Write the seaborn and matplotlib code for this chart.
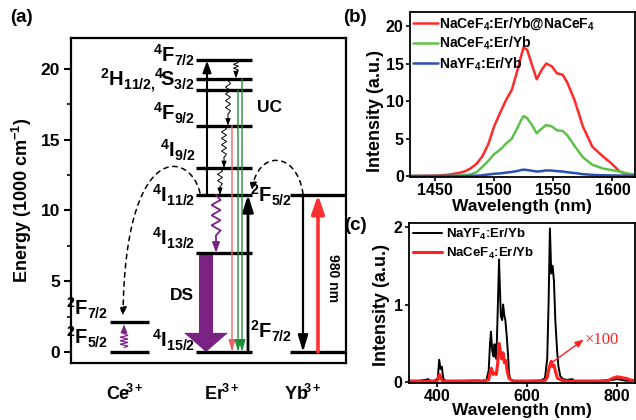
import numpy as np
import pandas as pd
import matplotlib
matplotlib.use("Agg")
import matplotlib.pyplot as plt
import seaborn as sns
from matplotlib.path import Path
from matplotlib.patches import FancyArrowPatch, Polygon

# ---------------- data ----------------
# (a) energy levels (1000 cm^-1)
ce_levels = [0.0, 2.1]
ce_labels = [r"$^{2}\mathrm{F}_{5/2}$", r"$^{2}\mathrm{F}_{7/2}$"]
er_levels = [0.0, 7.0, 11.1, 13.0, 16.0, 18.5, 19.3, 20.6]
er_labels = [r"$^{4}\mathrm{I}_{15/2}$", r"$^{4}\mathrm{I}_{13/2}$", r"$^{4}\mathrm{I}_{11/2}$",
             r"$^{4}\mathrm{I}_{9/2}$", r"$^{4}\mathrm{F}_{9/2}$", "", "", r"$^{4}\mathrm{F}_{7/2}$"]
er_pair_label = r"$^{2}\mathrm{H}_{11/2,}\!{}^{4}\!\mathrm{S}_{3/2}$"
yb_levels = [0.0, 11.1]
yb_labels = [r"$^{2}\mathrm{F}_{7/2}$", r"$^{2}\mathrm{F}_{5/2}$"]
ions = [r"$\mathrm{Ce}^{\!\!3+}$", r"$\mathrm{Er}^{\!3+}$", r"$\mathrm{Yb}^{\!\!3+}$"]

# (b) down-shifting spectra
b_wavelength = [1430, 1450, 1460, 1470, 1475, 1480, 1485, 1490, 1495, 1500,
                1505, 1510, 1515, 1519, 1523, 1525, 1528, 1532, 1536, 1540,
                1544, 1549, 1553, 1558, 1562, 1568, 1575, 1583, 1592, 1599,
                1606, 1614, 1619]
b_core_shell = [0.0, 0.05, 0.15, 0.4, 0.6, 1.0, 1.6, 2.6, 4.2, 6.6,
                8.4, 10.1, 11.5, 13.7, 16.1, 17.2, 16.8, 14.8, 12.9, 14.1,
                15.0, 14.6, 13.7, 13.5, 12.4, 10.1, 6.6, 3.9, 2.6, 1.7,
                0.6, 0.1, 0.0]
b_nacef = [0, 0, 0.02, 0.05, 0.1, 0.2, 0.5, 1.2, 2.0, 2.9,
           3.5, 4.3, 5.0, 6.2, 7.5, 8.0, 7.7, 6.8, 5.7, 6.3,
           6.8, 6.6, 6.1, 6.0, 5.4, 4.0, 2.5, 1.5, 1.0, 0.8,
           0.6, 0.3, 0.2]
b_nayf = [0, 0, 0, 0, 0, 0.02, 0.05, 0.1, 0.2, 0.3,
          0.35, 0.45, 0.55, 0.65, 0.8, 0.85, 0.8, 0.7, 0.6, 0.65,
          0.75, 0.72, 0.65, 0.6, 0.5, 0.4, 0.25, 0.15, 0.1, 0.08,
          0.06, 0.05, 0.05]
b_names = [r"NaCeF$_4$:Er/Yb@NaCeF$_4$", r"NaCeF$_4$:Er/Yb", r"NaYF$_4$:Er/Yb"]

# (c) upconversion spectra
c_black_wl = [340, 360, 375, 380, 385, 395, 402, 405, 408, 411,
              414, 418, 425, 450, 480, 500, 510, 515, 518, 520,
              523, 526, 528, 530, 532, 535, 538, 540, 542, 545,
              547, 550, 552, 555, 558, 560, 563, 570, 600, 630,
              640, 645, 648, 651, 654, 657, 660, 663, 667, 670,
              674, 680, 690, 700, 705, 720, 760, 790, 800, 810,
              820, 840]
c_black_int = [0.02, 0.02, 0.03, 0.04, 0.02, 0.02, 0.05, 0.29, 0.17, 0.2,
               0.05, 0.02, 0.02, 0.02, 0.02, 0.02, 0.03, 0.15, 0.5, 0.65,
               0.4, 0.33, 0.49, 0.35, 0.3, 0.9, 1.58, 1.2, 0.85, 0.8,
               1.0, 0.85, 0.8, 0.6, 0.35, 0.12, 0.04, 0.02, 0.02, 0.02,
               0.05, 0.3, 1.0, 1.98, 1.4, 1.5, 1.3, 0.8, 0.4, 0.2,
               0.08, 0.04, 0.03, 0.04, 0.02, 0.02, 0.02, 0.03, 0.04, 0.03,
               0.02, 0.02]
c_red_wl = [340, 380, 400, 403, 406, 409, 413, 450, 490, 500,
            515, 518, 521, 525, 528, 532, 535, 538, 541, 544,
            547, 550, 553, 556, 560, 570, 600, 640, 645, 648,
            651, 654, 657, 660, 664, 668, 680, 700, 760, 780,
            790, 800, 810, 820, 830, 840]
c_red_int = [0.01, 0.01, 0.01, 0.04, 0.1, 0.05, 0.01, 0.01, 0.02, 0.01,
             0.03, 0.12, 0.18, 0.1, 0.12, 0.1, 0.25, 0.5, 0.4, 0.3,
             0.38, 0.25, 0.28, 0.15, 0.05, 0.01, 0.01, 0.02, 0.06, 0.15,
             0.22, 0.27, 0.2, 0.22, 0.12, 0.05, 0.02, 0.01, 0.01, 0.02,
             0.05, 0.07, 0.06, 0.05, 0.03, 0.02]
c_names = [r"NaYF$_4$:Er/Yb", r"NaCeF$_4$:Er/Yb"]

# ---------------- style ----------------
sns.set_theme(style="ticks")
plt.rcParams.update({
    "font.family": ["Liberation Sans", "DejaVu Sans"],
    "font.weight": "bold",
    "axes.labelweight": "bold",
    "mathtext.fontset": "custom",
    "mathtext.rm": "Liberation Sans:bold",
    "mathtext.it": "Liberation Sans:bold",
    "mathtext.bf": "Liberation Sans:bold",
    "axes.edgecolor": "black",
    "xtick.color": "black",
    "ytick.color": "black",
    "text.color": "black",
})

PURPLE = "#7b2385"
RED = "#ff2a2a"
GREEN = "#1f8f3a"

fig = plt.figure(figsize=(6.36, 4.2), dpi=100)

# ================= (a) energy diagram =================
axa = fig.add_axes([71/636, 57/420, 275/636, 325/420])
axa.set_xlim(0, 275)
axa.set_ylim(-0.78, 22.19)
for s in axa.spines.values():
    s.set_linewidth(1.6)
axa.set_xticks([])
axa.set_yticks([0, 5, 10, 15, 20])
axa.set_yticks([2.5, 7.5, 12.5, 17.5], minor=True)
axa.tick_params(axis="y", which="major", direction="out", length=5, width=1.5,
                labelsize=12.5, pad=3)
axa.tick_params(axis="y", which="minor", direction="out", length=3, width=1.2)
for t in axa.get_yticklabels():
    t.set_fontweight("bold")

CE_X = (39, 78)
ER_X = (125, 181)
YB_X = (219, 274)
LW_LEVEL = 2.4

axa.hlines(ce_levels, *CE_X, color="black", lw=LW_LEVEL)
axa.hlines(er_levels, *ER_X, color="black", lw=LW_LEVEL)
axa.hlines(yb_levels, *YB_X, color="black", lw=LW_LEVEL)

LFS = 14.5
ce_off = [0.55, 2.55]
for lab, yb_ in zip(ce_labels, ce_off):
    axa.text(37, yb_, lab, ha="right", va="baseline", fontsize=LFS)
er_off = {0: 0.3, 1: 7.5, 2: 10.55, 3: 13.75, 4: 16.35, 7: 20.45}
for i, lab in enumerate(er_labels):
    if lab:
        axa.text(124, er_off[i], lab, ha="right", va="baseline", fontsize=LFS)
axa.text(124, 18.75, er_pair_label, ha="right", va="baseline", fontsize=LFS)
yb_off = [0.95, 10.55]
for lab, yb_ in zip(yb_labels, yb_off):
    axa.text(221, yb_, lab, ha="right", va="baseline", fontsize=LFS)

# ion labels
for xpos, lab in zip([54, 151, 232], ions):
    axa.text(xpos, -0.114, lab, ha="center", va="baseline", fontsize=13,
             transform=axa.get_xaxis_transform())

def arrow(ax, x, y0, y1, color, lw, hl, hw):
    ax.annotate("", xy=(x, y1), xytext=(x, y0),
                arrowprops=dict(arrowstyle=f"-|>,head_length={hl},head_width={hw}",
                                color=color, lw=lw, shrinkA=0, shrinkB=0,
                                mutation_scale=1))

def zigzag(ax, x, y0, y1, amp, n, tail, color, lw, hl, hw):
    yz_end = y0 + (y1 - y0) * (1 - tail)
    ys = np.linspace(y0, yz_end, 2 * n + 1)
    signs = np.array([0] + [(-1) ** k for k in range(2 * n - 1)] + [0])
    ax.plot(x + amp * signs, ys, color=color, lw=lw, solid_joinstyle="miter")
    arrow(ax, x, yz_end, y1, color, lw, hl, hw)

E = dict(zip(["I15", "I13", "I11", "I9", "F9", "S3", "H11", "F7"], er_levels))

# straight Er arrows
arrow(axa, 136, E["I11"], E["F7"], "black", 1.5, 7, 2.5)
arrow(axa, 177, E["I15"], E["I11"], "black", 2.0, 10, 3.2)
arrow(axa, 161, E["F9"], E["I15"], "#f06262", 1.0, 7, 2.0)
arrow(axa, 167, E["S3"], E["I15"], GREEN, 1.0, 7, 2.0)
arrow(axa, 171, E["H11"], E["I15"], GREEN, 1.0, 7, 2.0)

# non-radiative relaxations
zigzag(axa, 165, E["F7"], E["H11"] + 0.05, 2.5, 3, 0.35, "black", 0.7, 4, 1.5)
zigzag(axa, 157, E["H11"] - 0.1, E["F9"], 2.5, 5, 0.25, "black", 0.7, 4, 1.5)
zigzag(axa, 153, E["F9"], E["I9"], 2.5, 5, 0.25, "black", 0.7, 4, 1.5)
zigzag(axa, 149, E["I9"], E["I11"], 2.5, 3, 0.3, "black", 0.7, 4, 1.5)
zigzag(axa, 145, E["I11"], E["I13"], 4.5, 4, 0.3, PURPLE, 1.3, 6, 2.2)

# DS big arrow
xc, top, bot = 135, E["I13"], E["I15"]
hy = 1.35
axa.add_patch(Polygon([(xc - 7, top), (xc + 7, top), (xc + 7, hy), (xc + 22, hy),
                       (xc, bot), (xc - 22, hy), (xc - 7, hy)],
                      closed=True, facecolor=PURPLE, edgecolor="none"))

# Ce relaxation
zigzag(axa, 53, ce_levels[0] + 0.3, ce_levels[1] - 0.15, 4, 4, 0.4, PURPLE, 0.9, 5, 2.0)

# Yb arrows
arrow(axa, 232, yb_levels[1], yb_levels[0], "black", 1.6, 10, 3.0)
arrow(axa, 247, yb_levels[0], yb_levels[1], "#ff3030", 2.6, 11, 3.8)
axa.text(262, 5.2, "980 nm", rotation=-90, ha="center", va="center", fontsize=10)

# energy transfer dashed curves
def ycoord(py):
    return (352 - py) / 14.15

path1 = Path([(129, ycoord(193)), (119, ycoord(150)), (54, ycoord(140)), (52, ycoord(316))],
             [Path.MOVETO, Path.CURVE4, Path.CURVE4, Path.CURVE4])
axa.add_patch(FancyArrowPatch(path=path1, arrowstyle="-|>,head_length=5,head_width=2",
                              mutation_scale=1, color="black", lw=1.1, linestyle=(0, (3, 3))))
path2 = Path([(232, ycoord(194)), (226, ycoord(150)), (186, ycoord(150)), (181, ycoord(191))],
             [Path.MOVETO, Path.CURVE4, Path.CURVE4, Path.CURVE4])
axa.add_patch(FancyArrowPatch(path=path2, arrowstyle="-|>,head_length=5,head_width=2",
                              mutation_scale=1, color="black", lw=1.1, linestyle=(0, (3, 3))))

axa.text(198, ycoord(108), "UC", ha="center", va="center", fontsize=12.5)
axa.text(111, ycoord(296), "DS", ha="center", va="center", fontsize=12.5)

fig.text(22/636, 1 - 200/420, r"Energy (1000 $\mathrm{cm}^{-1}$)", rotation=90,
         ha="center", va="center", fontsize=13)
fig.text(21/636, 1 - 18/420, "(a)", ha="center", va="center", fontsize=13.5)

# ================= (b) =================
axb = fig.add_axes([410/636, 243/420, 225/636, 165/420])
dfb = pd.DataFrame({"wl": b_wavelength * 3,
                    "I": b_core_shell + b_nacef + b_nayf,
                    "sample": [b_names[0]] * len(b_wavelength) + [b_names[1]] * len(b_wavelength)
                              + [b_names[2]] * len(b_wavelength)})
sns.lineplot(data=dfb, x="wl", y="I", hue="sample", hue_order=b_names,
             palette=[RED, "#5cc24a", "#2a4fb5"], estimator=None, lw=1.8, ax=axb)
axb.set_xlim(1429, 1619)
axb.set_ylim(-0.13, 21.87)
axb.set_xticks([1450, 1500, 1550, 1600])
axb.set_yticks([0, 5, 10, 15, 20])
axb.set_xlabel("")
axb.set_ylabel("")
axb.legend(loc="upper left", bbox_to_anchor=(0.0, 1.0), frameon=False, fontsize=10,
           handlelength=1.75, handletextpad=0.1, borderaxespad=0.0, borderpad=0.25,
           labelspacing=0.2)

# ================= (c) =================
axc = fig.add_axes([409/636, 37/420, 226/636, 160/420])
dfc = pd.DataFrame({"wl": c_black_wl + c_red_wl,
                    "I": c_black_int + c_red_int,
                    "sample": [c_names[0]] * len(c_black_wl) + [c_names[1]] * len(c_red_wl)})
sns.lineplot(data=dfc, x="wl", y="I", hue="sample", hue_order=c_names,
             palette=["black", "#ff2020"], estimator=None, ax=axc, lw=1.6)
for ln, w in zip(axc.get_lines()[:2], [1.4, 2.2]):
    ln.set_linewidth(w)
axc.set_xlim(338, 840)
axc.set_ylim(-0.01, 2.05)
axc.set_xticks([400, 600, 800])
axc.set_yticks([0, 1, 2])
axc.set_xlabel("")
axc.set_ylabel("")
leg = axc.legend(loc="upper left", bbox_to_anchor=(0.0, 1.0), frameon=False, fontsize=9.5,
                 handlelength=2.2, handletextpad=0.3, borderaxespad=0.0, borderpad=0.3,
                 labelspacing=0.3)
for h, w in zip(leg.get_lines(), [1.4, 2.2]):
    h.set_linewidth(w)
axc.annotate("", xy=(726, 0.55), xytext=(657, 0.26),
             arrowprops=dict(arrowstyle="-|>,head_length=5,head_width=2", mutation_scale=1,
                             color="#ff2020", lw=1.0, shrinkA=0, shrinkB=0))
axc.text(729, 0.55, "×100", color="#ff2020", fontsize=12, fontweight="normal",
         family="Liberation Serif", ha="left", va="center")

for ax in (axb, axc):
    for s in ax.spines.values():
        s.set_linewidth(1.3)
        s.set_visible(True)
    ax.tick_params(direction="out", length=3, width=1.2, labelsize=11.5, pad=1.5)
    for t in ax.get_xticklabels() + ax.get_yticklabels():
        t.set_fontweight("bold")

fig.text(376/636, 1 - 111/420, "Intensity (a.u.)", rotation=90, ha="center", va="center", fontsize=13)
fig.text(381/636, 1 - 305/420, "Intensity (a.u.)", rotation=90, ha="center", va="center", fontsize=13)
fig.text(522/636, 1 - 206/420, "Wavelength (nm)", ha="center", va="center", fontsize=12.5)
fig.text(522/636, 1 - 411/420, "Wavelength (nm)", ha="center", va="center", fontsize=12.5)
fig.text(355/636, 1 - 17/420, "(b)", ha="center", va="center", fontsize=13.5)
fig.text(355/636, 1 - 225/420, "(c)", ha="center", va="center", fontsize=13.5)

fig.savefig("out.png", dpi=100)
